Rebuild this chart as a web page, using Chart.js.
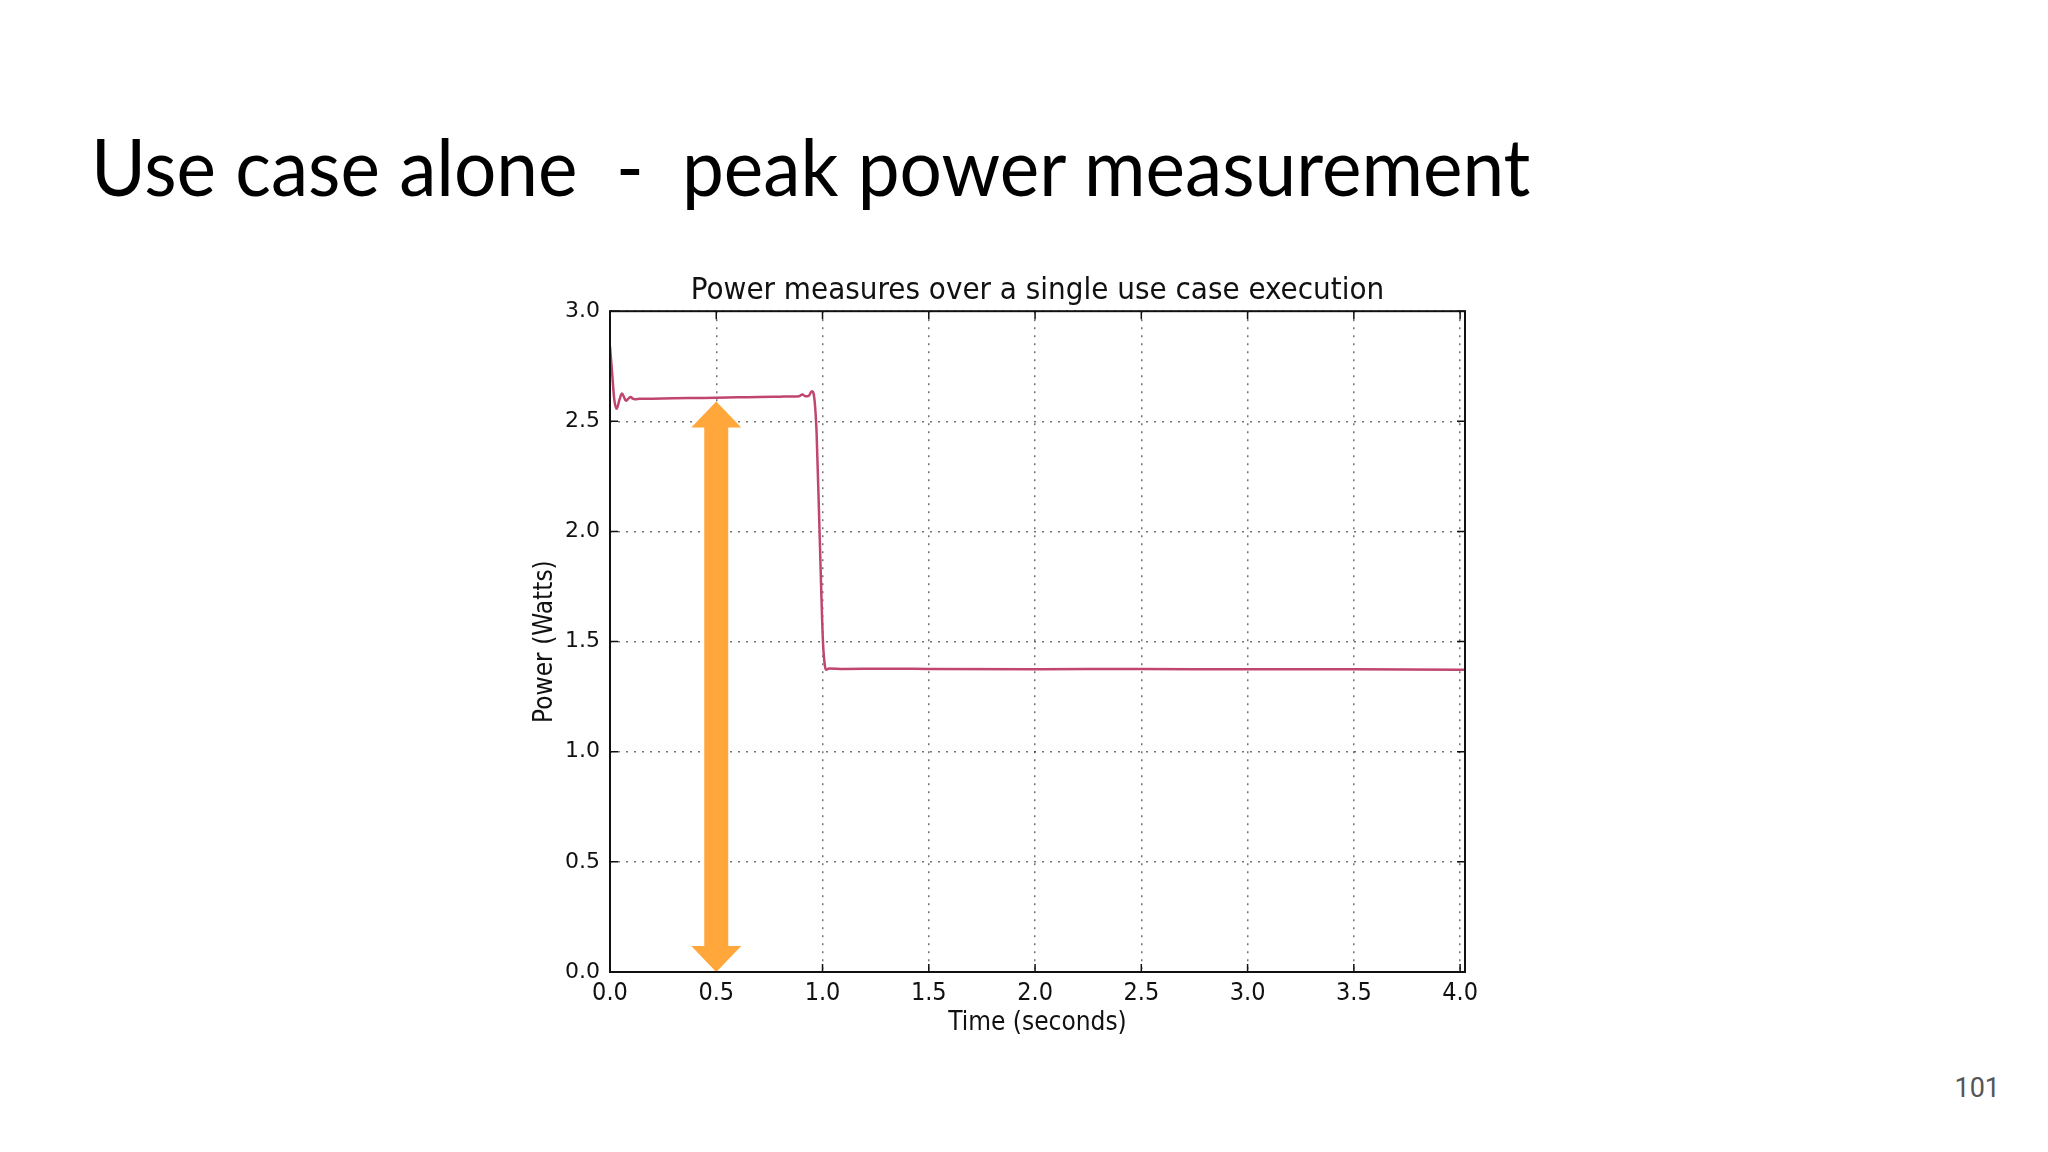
<!DOCTYPE html>
<html>
<head>
<meta charset="utf-8">
<script src="https://cdn.jsdelivr.net/npm/chart.js@4.4.1/dist/chart.umd.min.js"></script>
<style>
  html, body { margin: 0; padding: 0; background: #fff; }
  body { width: 2048px; height: 1152px; position: relative; overflow: hidden; }
  #slideTitle {
    position: absolute; left: 91px; top: 126px;
    font-family: Lato, sans-serif; font-size: 79px; line-height: 1;
    color: #000; white-space: pre; transform-origin: 0 0;
  }
  #pageNum {
    position: absolute; right: 48px; top: 1072px;
    font-family: Roboto, sans-serif; font-size: 27px; color: #555;
  }
  #chart { position: absolute; left: 0; top: 0; }
</style>
</head>
<body>
<div id="slideTitle">Use case alone  -  peak power measurement</div>
<div id="pageNum">101</div>
<canvas id="chart" width="2048" height="1152"></canvas>
<script>
// measured power trace
const time = [0, 0.01, 0.02, 0.031, 0.045, 0.056, 0.066, 0.075, 0.086, 0.097, 0.107, 0.117, 0.14,
  0.2, 0.3, 0.4, 0.5, 0.6, 0.7, 0.8, 0.85, 0.89, 0.905, 0.92, 0.935, 0.95, 0.962, 0.972,
  0.986, 1.002, 1.012, 1.018, 1.03, 1.1, 1.3, 1.5, 2.0, 2.5, 3.0, 3.5, 4.0, 4.023]
const power = [2.84, 2.72, 2.6, 2.557, 2.6, 2.626, 2.61, 2.593, 2.603, 2.611, 2.603, 2.6, 2.602,
  2.603, 2.605, 2.606, 2.607, 2.609, 2.61, 2.612, 2.613, 2.614, 2.622, 2.614, 2.616, 2.637, 2.6, 2.45,
  2.0, 1.5, 1.385, 1.372, 1.378, 1.376, 1.377, 1.376, 1.375, 1.376, 1.374, 1.375, 1.372, 1.373]

const xTicks = [0, 0.5, 1, 1.5, 2, 2.5, 3, 3.5, 4]
const yTicks = [0, 0.5, 1, 1.5, 2, 2.5, 3]

// the orange double arrow marks the peak
const arrowX = 0.5
const arrowFrom = 0
const arrowTo = 2.59

// fit the slide title to the width it has in the slide
const st = document.getElementById('slideTitle')
st.style.transform = 'scaleX(' + (1439 / st.scrollWidth) + ')'

const framePlugin = {
  id: 'frame',
  beforeDatasetsDraw(chart) {
    const {ctx, chartArea: a, scales} = chart
    ctx.save()
    ctx.strokeStyle = '#111'
    ctx.lineWidth = 1.5
    // inward tick marks, like matplotlib
    xTicks.forEach(v => {
      const px = scales.x.getPixelForValue(v)
      ctx.beginPath()
      ctx.moveTo(px, a.bottom); ctx.lineTo(px, a.bottom - 8)
      ctx.moveTo(px, a.top); ctx.lineTo(px, a.top + 8)
      ctx.stroke()
    })
    yTicks.forEach(v => {
      const py = scales.y.getPixelForValue(v)
      ctx.beginPath()
      ctx.moveTo(a.left, py); ctx.lineTo(a.left + 8, py)
      ctx.moveTo(a.right, py); ctx.lineTo(a.right - 8, py)
      ctx.stroke()
    })
    ctx.restore()
  },
  afterDraw(chart) {
    const {ctx, chartArea: a} = chart
    ctx.save()
    ctx.strokeStyle = '#111'
    ctx.lineWidth = 2
    ctx.strokeRect(a.left, a.top, a.right - a.left, a.bottom - a.top)
    ctx.restore()
  }
}

const arrowPlugin = {
  id: 'arrow',
  afterDatasetsDraw(chart) {
    const {ctx, scales} = chart
    const x = scales.x.getPixelForValue(arrowX)
    const yTop = scales.y.getPixelForValue(arrowTo)
    const yBot = scales.y.getPixelForValue(arrowFrom)
    const shaft = 12, head = 25, headH = 26
    ctx.save()
    ctx.fillStyle = '#ffa73a'
    ctx.beginPath()
    ctx.moveTo(x, yTop)
    ctx.lineTo(x + head, yTop + headH)
    ctx.lineTo(x + shaft, yTop + headH)
    ctx.lineTo(x + shaft, yBot - headH)
    ctx.lineTo(x + head, yBot - headH)
    ctx.lineTo(x, yBot)
    ctx.lineTo(x - head, yBot - headH)
    ctx.lineTo(x - shaft, yBot - headH)
    ctx.lineTo(x - shaft, yTop + headH)
    ctx.lineTo(x - head, yTop + headH)
    ctx.closePath()
    ctx.fill()
    ctx.restore()
  }
}

const gridOpts = {
  color: 'rgba(0,0,0,0.55)',
  lineWidth: 1.5,
  drawTicks: false
}

const condensed = '"DejaVu Sans Condensed", "DejaVu Sans"'

new Chart(document.getElementById('chart'), {
  type: 'line',
  data: {
    datasets: [{
      data: time.map((t, i) => ({x: t, y: power[i]})),
      borderColor: '#c0466e',
      borderWidth: 2.5,
      pointRadius: 0,
      cubicInterpolationMode: 'monotone',
      fill: false
    }]
  },
  options: {
    responsive: false,
    animation: false,
    layout: { padding: { left: 520, right: 583, top: 272, bottom: 105 } },
    plugins: {
      legend: { display: false },
      tooltip: { enabled: false },
      title: {
        display: true,
        fullSize: false,
        text: 'Power measures over a single use case execution',
        color: '#111',
        font: { family: condensed, size: 31, weight: 'normal' },
        padding: { top: 0, bottom: 2 }
      }
    },
    scales: {
      x: {
        type: 'linear',
        min: 0,
        max: 4.023,
        afterFit: s => { s.height = 75 },
        afterBuildTicks: s => { s.ticks = xTicks.map(v => ({value: v})) },
        grid: { ...gridOpts },
        border: { display: false, dash: [2, 6] },
        ticks: {
          padding: 6,
          maxRotation: 0,
          color: '#111',
          font: { family: condensed, size: 25 },
          callback: v => v.toFixed(1)
        },
        title: {
          display: true,
          text: 'Time (seconds)',
          color: '#111',
          font: { family: condensed, size: 26 },
          padding: { top: 4, bottom: 8 }
        }
      },
      y: {
        min: 0,
        max: 3,
        afterFit: s => { s.width = 90 },
        afterBuildTicks: s => { s.ticks = yTicks.map(v => ({value: v})) },
        grid: { ...gridOpts },
        border: { display: false, dash: [2, 6] },
        ticks: {
          padding: 10,
          color: '#111',
          font: { family: '"DejaVu Sans"', size: 22 },
          callback: v => v.toFixed(1)
        },
        title: {
          display: true,
          text: 'Power (Watts)',
          color: '#111',
          font: { family: condensed, size: 26 },
          padding: { top: 10, bottom: 0 }
        }
      }
    }
  },
  plugins: [framePlugin, arrowPlugin]
})
</script>
</body>
</html>
